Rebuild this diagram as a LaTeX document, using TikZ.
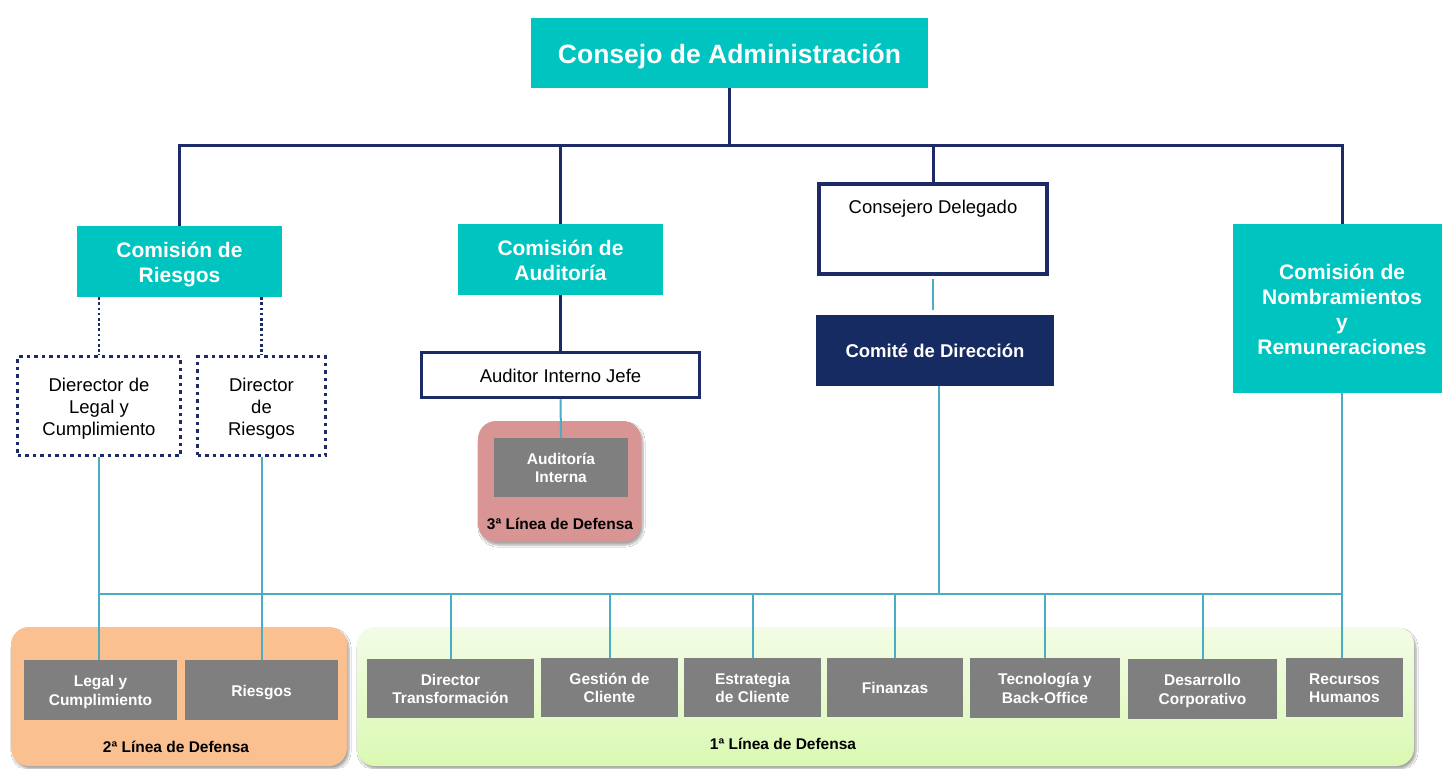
\documentclass[tikz,border=0pt]{standalone}
\usepackage{fontspec}
\setmainfont{Liberation Sans}
\usetikzlibrary{shadows.blur}
\definecolor{tealc}{RGB}{0,196,192}
\definecolor{navyc}{RGB}{28,42,104}
\definecolor{comitec}{RGB}{23,43,99}
\definecolor{lblue}{RGB}{75,172,198}
\definecolor{grayc}{RGB}{127,127,127}
\definecolor{pinkc}{RGB}{217,149,148}
\definecolor{orangec}{RGB}{250,192,144}
\definecolor{greent}{RGB}{243,252,230}
\definecolor{greenb}{RGB}{218,249,178}
\newcommand\myTopStrut{\rule{0pt}{1em}}
\newcommand\myBotStrut{\rule[-0.21em]{0pt}{0pt}}
\tikzset{
  vc/.style={execute at begin node=\myTopStrut, execute at end node=\myBotStrut},
  tealbox/.style={fill=tealc, text=white, font=\bfseries\fontsize{21}{25.5}\selectfont, align=center, inner sep=0pt, text height=46.5pt, text depth=4.4pt},
  graybox/.style={vc, fill=grayc, text=white, font=\bfseries\fontsize{15.5}{18.5}\selectfont, align=center, inner sep=0pt},
  graytwo/.style={graybox, text height=34pt, text depth=3.3pt},
  framebox/.style={vc, draw=navyc, line width=3.5pt, fill=white, font=\fontsize{18.5}{22}\selectfont, align=center, inner sep=0pt},
  dotbox/.style={draw=navyc, line width=3.2pt, dash pattern=on 3.5pt off 4pt, fill=white, font=\fontsize{18.5}{22}\selectfont, align=center, inner sep=0pt, text height=62.5pt, text depth=3.9pt},
  navyline/.style={draw=navyc, line width=3pt},
  dotline/.style={draw=navyc, line width=2.6pt, dash pattern=on 2.6pt off 2.6pt},
  blueline/.style={draw=lblue, line width=2pt},
  container/.style={rounded corners=18pt, inner sep=0pt, blur shadow={shadow xshift=2pt, shadow yshift=-3pt, shadow blur steps=6, shadow opacity=35}},
  linelabel/.style={font=\bfseries\fontsize{15.5}{18}\selectfont, text=black, inner sep=0pt}
}
\begin{document}
\begin{tikzpicture}[x=1pt,y=-1pt]
\useasboundingbox (0,0) rectangle (1442,768);
\clip (0,0) rectangle (1442,768);
\fill[white] (0,0) rectangle (1442,768);

% containers
\node[container, fill=pinkc, minimum width=163pt, minimum height=121pt] (pinkbox) at (559.5,481.5) {};
\node[container, fill=orangec, minimum width=336pt, minimum height=139pt] (orangebox) at (179,696.5) {};
\node[container, top color=greent, bottom color=greenb, minimum width=1057pt, minimum height=139pt] (greenbox) at (885.5,696.5) {};

% top level
\node[vc, fill=tealc, text=white, inner sep=0pt, minimum width=397pt, minimum height=70pt, font=\bfseries\fontsize{26.5}{30}\selectfont] (cons) at (729.5,53) {Consejo de Administración};
\node[tealbox, minimum width=205pt, minimum height=71pt] (cr) at (179.5,261.5) {Comisión de\\Riesgos};
\node[tealbox, minimum width=205pt, minimum height=71pt] (ca) at (560.5,259.5) {Comisión de\\Auditoría};
\node[framebox, minimum width=228pt, minimum height=90pt,
      label={[anchor=north, inner sep=0pt, yshift=-18pt, font=\fontsize{18.5}{22}\selectfont]north:Consejero Delegado}] (cdel) at (933,229) {};
\node[vc, fill=comitec, text=white, font=\bfseries\fontsize{18.5}{22}\selectfont, inner sep=0pt, minimum width=238pt, minimum height=71pt] (comite) at (935,350.5) {Comité de Dirección};
\node[tealbox, minimum width=218pt, minimum height=169pt, font=\bfseries\fontsize{21}{25}\selectfont, text height=96pt] (cnr) at (1342,308.5) {Comisión de\\Nombramientos\\y\\Remuneraciones};

% second level
\node[dotbox, minimum width=163pt, minimum height=99pt] (dl) at (99,406) {Dierector de\\Legal y\\Cumplimiento};
\node[dotbox, minimum width=128pt, minimum height=99pt] (dr) at (261.5,406) {Director\\de\\Riesgos};
\node[framebox, minimum width=278pt, minimum height=45pt] (aij) at (560.5,375) {Auditor Interno Jefe};
\node[graytwo, minimum width=134pt, minimum height=59pt] (ai) at (561,467.5) {Auditoría\\Interna};
\node[linelabel] (l3) at (560,524) {3ª Línea de Defensa};

% bottom boxes
\node[graytwo, minimum width=153pt, minimum height=60pt] (lyc) at (100.5,690) {Legal y\\Cumplimiento};
\node[graybox, minimum width=153pt, minimum height=60pt] (rsg) at (261.5,690) {Riesgos};
\node[linelabel] (l2) at (176,747) {2ª Línea de Defensa};
\node[graytwo, minimum width=167pt, minimum height=59pt] (dt) at (450.5,688.5) {Director\\Transformación};
\node[graytwo, minimum width=137pt, minimum height=59pt] (gc) at (609.5,687.5) {Gestión de\\Cliente};
\node[graytwo, minimum width=137pt, minimum height=59pt] (ec) at (752.5,687.5) {Estrategia\\de Cliente};
\node[graybox, minimum width=136pt, minimum height=59pt] (fin) at (895,687.5) {Finanzas};
\node[graytwo, minimum width=150pt, minimum height=60pt] (tec) at (1045,688) {Tecnología y\\Back-Office};
\node[graytwo, minimum width=149pt, minimum height=60pt] (dc) at (1202.5,689) {Desarrollo\\Corporativo};
\node[graytwo, minimum width=117pt, minimum height=59pt] (rh) at (1344.5,687.5) {Recursos\\Humanos};
\node[linelabel] (l1) at (783,744) {1ª Línea de Defensa};

% top connectors
\coordinate (busT) at (730,145);
\draw[navyline] (cons.south) -- (cons.south |- busT);
\draw[navyline] (cr.north) -- (cr.north |- busT) -- (cnr.north |- busT) -- (cnr.north);
\draw[navyline] (ca.north) -- (ca.north |- busT);
\draw[navyline] (cdel.north) -- (cdel.north |- busT);
\draw[navyline] (ca.south) -- (aij.north);
\draw[dotline] (cr.south -| dl.north) -- (dl.north);
\draw[dotline] (cr.south -| dr.north) -- (dr.north);
\draw[blueline] (aij.south) -- (ai.north);
\draw[blueline, shorten <=3pt, shorten >=5pt] (cdel.south) -- (cdel.south |- comite.north);

% bottom connectors
\coordinate (busB) at (0,594);
\draw[blueline] (dl.south |- busB) -- (cnr.south |- busB);
\draw[blueline] (dl.south) -- (dl.south |- lyc.north);
\draw[blueline] (dr.south) -- (dr.south |- rsg.north);
\draw[blueline] ([xshift=4pt]comite.south) -- ([xshift=4pt]comite.south |- busB);
\draw[blueline] (cnr.south) -- (cnr.south |- rh.north);
\foreach \b in {dt,gc,ec,fin,tec,dc}{
  \draw[blueline] (\b.north |- busB) -- (\b.north);
}
\end{tikzpicture}
\end{document}
